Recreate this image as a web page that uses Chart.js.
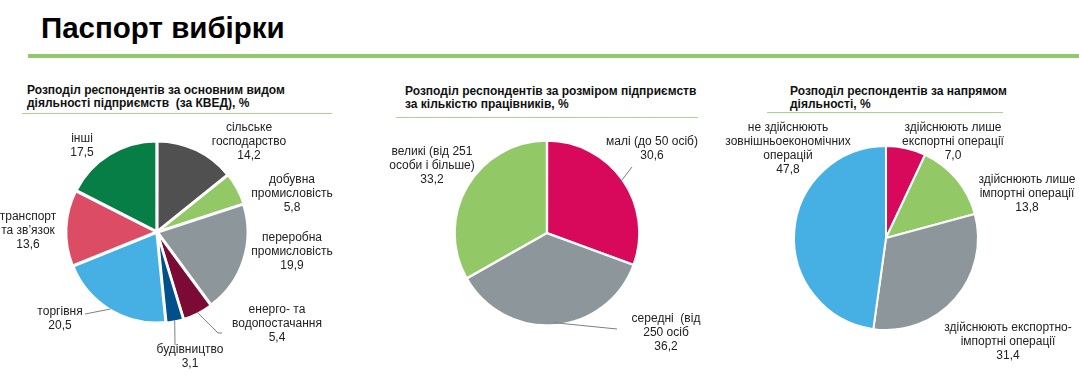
<!DOCTYPE html>
<html>
<head>
<meta charset="utf-8">
<script src="https://cdn.jsdelivr.net/npm/chart.js@4"></script>
<style>
body { margin:0; width:1079px; height:379px; background:#fff; position:relative; overflow:hidden;
       font-family:"Liberation Sans", Arial, sans-serif; color:#111; }
#title { position:absolute; left:41px; top:11px; font-size:29.5px; font-weight:bold; line-height:34px; color:#000; }
#title-line { position:absolute; left:28px; top:54px; width:1051px; height:4px; background:#92c86a; }
.head { position:absolute; font-size:12px; font-weight:bold; line-height:13px; color:#111; white-space:nowrap; }
.head-line { position:absolute; height:1px; background:#a9d58c; }
canvas { position:absolute; }
</style>
</head>
<body>
<div id="title">Паспорт вибірки</div>
<div id="title-line"></div>

<div class="head" style="left:27px;top:84px">Розподіл респондентів за основним видом<br>діяльності підприємств&nbsp; (за КВЕД), %</div>
<div class="head-line" style="left:22px;top:113px;width:310px"></div>

<div class="head" style="left:405px;top:85px">Розподіл респондентів за розміром підприємств<br>за кількістю працівників, %</div>
<div class="head-line" style="left:396px;top:117px;width:302px"></div>

<div class="head" style="left:790px;top:85px">Розподіл респондентів за напрямом<br>діяльності, %</div>
<div class="head-line" style="left:767px;top:112px;width:236px"></div>

<canvas id="kved-chart" width="360" height="264" style="left:0;top:115px"></canvas>
<canvas id="size-chart" width="360" height="264" style="left:360px;top:115px"></canvas>
<canvas id="dir-chart" width="359" height="264" style="left:720px;top:115px"></canvas>

<script>
// data
var kved_labels = [['сільське', 'господарство'], ['добувна', 'промисловість'], ['переробна', 'промисловість'],
    ['енерго- та', 'водопостачання'], ['будівництво'], ['торгівня'], ['транспорт', 'та зв’язок'], ['інші']];
var kved_values = [14.2, 5.8, 19.9, 5.4, 3.1, 20.5, 13.6, 17.5];

var size_labels = [['малі (до 50 осіб)'], ['середні  (від', '250 осіб'], ['великі (від 251', 'особи і більше)']];
var size_values = [30.6, 36.2, 33.2];

var dir_labels = [['здійснюють лише', 'експортні операції'], ['здійснюють лише', 'імпортні операції'],
    ['здійснюють експортно-', 'імпортні операції'], ['не здійснюють', 'зовнішньоекономічних', 'операцій']];
var dir_values = [7.0, 13.8, 31.4, 47.8];

var kved_colors = ['#505050', '#93c866', '#8d979b', '#7b0b34', '#00508c', '#46afe4', '#dc4d65', '#067e46'];
var size_colors = ['#d8095a', '#8d979b', '#93c866'];
var dir_colors = ['#d8095a', '#93c866', '#8d979b', '#46afe4'];

// where the text of each slice sits, relative to the pie centre
var kved_place = [[92, -104], [135, -52], [135, 6], [120, 78], [33, 118], [-97, 80], [-129, -15], [-75, -93]];
var size_place = [[105, -91], [119, 86], [-115, -81]];
var dir_place = [[67, -110], [141, -58], [122, 90], [-98, -110]];

var kved_leaders = {3: [[61, 101], [65, 101]], 4: [[18, 113]], 5: [[-72, 82]]};
var size_leaders = {0: [[85, -66]], 1: [[70, 96]]};
var dir_leaders = {};

function fmt(v) {
    return v.toFixed(1).replace('.', ',');
}

var sliceLabels = {
    id: 'sliceLabels',
    afterDatasetsDraw: function (chart, args, opts) {
        var ctx = chart.ctx;
        var meta = chart.getDatasetMeta(0);
        var ds = chart.data.datasets[0];
        ctx.save();
        ctx.font = '12px "Liberation Sans", Arial, sans-serif';
        ctx.fillStyle = '#222';
        ctx.textAlign = 'center';
        ctx.textBaseline = 'middle';
        meta.data.forEach(function (arc, i) {
            var cx = arc.x, cy = arc.y;
            var lines = chart.data.labels[i].concat([fmt(ds.data[i])]);
            var p = opts.place[i];
            lines.forEach(function (t, k) {
                ctx.fillText(t, cx + p[0], cy + p[1] + k * 14);
            });
            var lead = opts.leaders[i];
            if (lead) {
                var mid = (arc.startAngle + arc.endAngle) / 2;
                var r = arc.outerRadius + (ds.offset || 0) - 3;
                ctx.strokeStyle = '#7f7f7f';
                ctx.lineWidth = 1;
                ctx.beginPath();
                ctx.moveTo(cx + Math.cos(mid) * r, cy + Math.sin(mid) * r);
                lead.forEach(function (pt) {
                    ctx.lineTo(cx + pt[0], cy + pt[1]);
                });
                ctx.stroke();
            }
        });
        ctx.restore();
    }
};

function make_pie(id, labels, values, colors, radius, offset, border, padding, place, leaders) {
    var ctx = document.getElementById(id).getContext('2d');
    return new Chart(ctx, {
        type: 'pie',
        data: {
            labels: labels,
            datasets: [{
                data: values,
                backgroundColor: colors,
                borderColor: '#fff',
                borderWidth: border,
                offset: offset,
                radius: radius
            }]
        },
        options: {
            responsive: false,
            animation: false,
            layout: {padding: padding},
            plugins: {
                legend: {display: false},
                tooltip: {enabled: false},
                sliceLabels: {place: place, leaders: leaders}
            }
        },
        plugins: [sliceLabels]
    });
}

make_pie('kved-chart', kved_labels, kved_values, kved_colors, 90, 3, 2.5,
    {left: 0, right: 46, top: 0, bottom: 30}, kved_place, kved_leaders);
make_pie('size-chart', size_labels, size_values, size_colors, 92, 1, 2,
    {left: 14, right: 0, top: 0, bottom: 28}, size_place, size_leaders);
make_pie('dir-chart', dir_labels, dir_values, dir_colors, 92, 0, 2,
    {left: 0, right: 27, top: 0, bottom: 18}, dir_place, dir_leaders);
</script>
</body>
</html>
